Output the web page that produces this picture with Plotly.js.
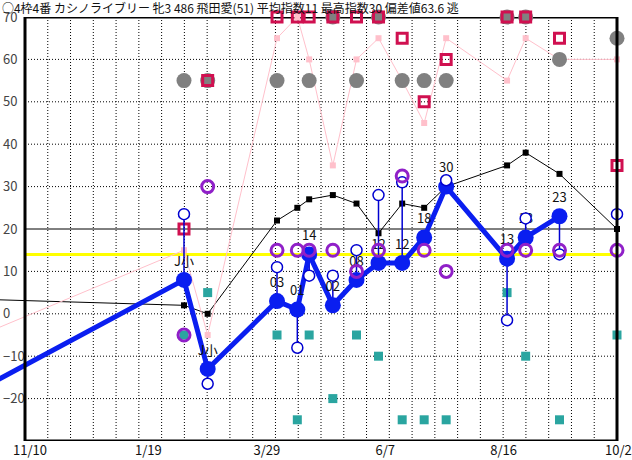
<!DOCTYPE html>
<html><head><meta charset="utf-8">
<script src="https://cdn.plot.ly/plotly-3.0.1.min.js"></script>
<style>html,body{margin:0;padding:0;background:#fff}</style>
</head><body><div id="chart" style="width:632px;height:460px"></div>
<script>
// ---- data ----
const raceDates = ['2023-08-28','2024-02-12','2024-02-26','2024-04-07','2024-04-19','2024-04-26','2024-05-10','2024-05-24','2024-06-06','2024-06-20','2024-07-03','2024-07-16','2024-08-21','2024-09-01','2024-09-21','2024-10-25'];
const mainIndex  = [-28, 8, -13, 3, 1, 14, 2, 8, 12, 12, 18, 30, 13, 18, 23, null];
const mainLabels = ['', 'J小', 'J小', '03', '01', '14', '02', '08', '12', '12', '18', '30', '13', '18', '23', ''];
const subIndex   = [null, 23.5, -16.5, 11, -8, 9, 9, 15, 28, 31, null, 31.5, -1.5, 22.5, 14, 23.5];
const todayLow   = 12;
const levelLine  = [4, 2, 0, 22, 25, 27, 28, 26, 19, 26, 25, 30, 35, 38, 33, 20];
const paceLine   = [-13, 15, -5, 65, 70, 60, 35, 60, 65, 55, 45, 65, 55, 65, 60, 60];
const grayMarks  = [null, 55, 55, 55, null, 55, 70, 55, 70, 55, 55, 55, 70, 70, 60, 65];
const redMarks   = [null, 20, 55, 70, 70, 70, 70, 70, 70, 65, 50, 60, 70, 70, 65, 35];
const tealMarks  = [null, -5, 5, -5, -25, -5, -20, -5, -10, -25, -25, -25, 5, -10, -25, -5];
const purpleMarks= [null, -5, 30, 15, 15, 15, 15, 10, 15, 32.5, 15, 10, 15, 15, 15, 15];
const baseLevel  = 14;
const tickDates  = ['2023-11-10','2024-01-19','2024-03-29','2024-06-07','2024-08-16','2024-10-25'];
const tickText   = ['11/10','1/19','3/29','6/7','8/16','10/25'];
const yTicks     = [70, 60, 50, 40, 30, 20, 10, 0, -10, -20];
const dottedY    = [60, 50, 40, 30, 10, 0, -10, -20];
const titleText  = '○4枠4番 カシノライブリー 牝3 486 飛田愛(51) 平均指数11 最高指数30 偏差値63.6 逃';

// ---- geometry ----
const frameLeftPx = 25, frameRightPx = 617, plotRightPx = 625;
const t0 = Date.parse(tickDates[0]), t1 = Date.parse(tickDates[tickDates.length-1]);
const spanMs = t1 - t0;
const pxMs = spanMs / (frameRightPx - frameLeftPx);
const leftMs = t0 - pxMs * frameLeftPx;
const rightMs = t1 + pxMs * (plotRightPx - frameRightPx);
const iso = ms => new Date(ms).toISOString().slice(0,19).replace('T',' ');
const X0 = iso(t0), X1 = iso(t1);

const shapes = [];
for (let k = 1; k < 26; k++) {
  const d = iso(t0 + spanMs * k / 26);
  shapes.push({type:'line', layer:'below', xref:'x', yref:'y', x0:d, x1:d, y0:-30, y1:70, line:{color:'#000', width:1, dash:'1px,2px'}});
}
dottedY.forEach(v => shapes.push({type:'line', layer:'below', xref:'x', yref:'y', x0:X0, x1:X1, y0:v, y1:v, line:{color:'#000', width:1, dash:'1px,2px'}}));
shapes.push({type:'line', layer:'below', xref:'x', yref:'y', x0:X0, x1:X1, y0:20, y1:20, line:{color:'#000', width:1}});
shapes.push({type:'line', layer:'below', xref:'x', yref:'y', x0:X0, x1:X1, y0:baseLevel, y1:baseLevel, line:{color:'#ffff00', width:3}});
[[X0,X1,-30,-30],[X0,X0,-30,70],[X1,X1,-30,70]].forEach(([a,b,c,d]) =>
  shapes.push({type:'line', layer:'above', xref:'x', yref:'y', x0:a, x1:b, y0:c, y1:d, line:{color:'#000', width:3}}));
shapes.push({type:'line', layer:'below', xref:'x', yref:'y', x0:X0, x1:X1, y0:70, y1:70, line:{color:'#000', width:3}});

const spanX = [], spanY = [];
raceDates.forEach((d, i) => {
  if (subIndex[i] == null) return;
  const end = mainIndex[i] != null ? mainIndex[i] : todayLow;
  spanX.push(d, d, null); spanY.push(subIndex[i], end, null);
});

const traces = [
  {x: raceDates, y: levelLine, mode:'lines+markers', cliponaxis:false, line:{color:'#000', width:1}, marker:{symbol:'square', size:6, color:'#000'}},
  {x: raceDates, y: paceLine, mode:'lines+markers', cliponaxis:false, line:{color:'#ffc0cb', width:1}, marker:{symbol:'square', size:6, color:'#ffc0cb'}},
  {x: raceDates, y: grayMarks, mode:'markers', cliponaxis:false, marker:{symbol:'circle', size:15, color:'#808080'}},
  {x: raceDates, y: redMarks, mode:'markers', cliponaxis:false, marker:{symbol:'square-open', size:10, color:'#d01050', line:{width:3}}},
  {x: raceDates, y: tealMarks, mode:'markers', cliponaxis:false, marker:{symbol:'square', size:9, color:'#2aa5a0'}},
  {x: spanX, y: spanY, mode:'lines', cliponaxis:false, line:{color:'#0000d0', width:1.5}},
  {x: raceDates, y: mainIndex, mode:'lines+markers+text', cliponaxis:false, text: mainLabels, textposition:'top center',
   textfont:{family:'Noto Sans CJK JP', size:13, color:'#111'}, line:{color:'#0a1ef0', width:5}, marker:{symbol:'circle', size:16, color:'#0a1ef0'}},
  {x: raceDates, y: subIndex, mode:'markers', cliponaxis:false, marker:{symbol:'circle', size:11, color:'#fff', line:{color:'#0000d0', width:1.5}}},
  {x: raceDates, y: purpleMarks, mode:'markers', cliponaxis:false, marker:{symbol:'circle-open', size:12, color:'#9020c8', line:{width:3}}}
];
traces.forEach(t => { t.showlegend = false; t.hoverinfo = 'skip'; });

const layout = {
  width:632, height:460, margin:{l:0, r:632-plotRightPx, t:17, b:19},
  paper_bgcolor:'#fff', plot_bgcolor:'rgba(0,0,0,0)', showlegend:false,
  font:{family:'Noto Sans CJK JP, Liberation Sans', size:13, color:'#111'},
  title:{text:titleText, x:0.003, xref:'container', xanchor:'left', y:1-9/460, yref:'container', yanchor:'middle',
    font:{family:'Noto Sans CJK JP', size:12, color:'#111'}},
  xaxis:{type:'date', range:[iso(leftMs), iso(rightMs)], tickvals:tickDates, ticktext:tickText, showgrid:false, zeroline:false,
    showline:false, ticks:'', ticklabelshift:5, ticklabeloverflow:'allow', tickfont:{size:13}, automargin:false, fixedrange:true},
  yaxis:{range:[-30, 70], tickvals:yTicks, showgrid:false, zeroline:false, showline:false, ticks:'',
    ticklabelposition:'inside', ticklabeloverflow:'allow', tickfont:{size:13}, automargin:false, fixedrange:true},
  shapes: shapes
};
Plotly.newPlot('chart', traces, layout, {staticPlot:true});
</script></body></html>
